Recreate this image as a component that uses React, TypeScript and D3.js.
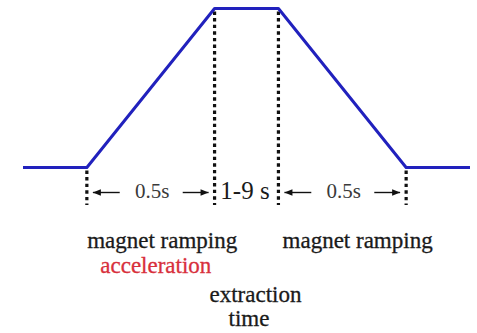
import React from 'react';
import * as d3 from 'd3';

// schematic cycle: time in "units" (0.5 = one flat/edge step), level 0 = injection, 1 = flat top
const cycleTimes = [0, 0.5, 1.5, 2, 3, 3.5];
const cycleLevels = [0, 0, 1, 1, 0, 0];
const markerIndex = [1, 2, 3, 4];

const intervalStart = [0.5, 1.5, 2];
const intervalEnd = [1.5, 2, 3];
const intervalLabels = ['0.5s', '1-9 s', '0.5s'];
const intervalArrows = [true, false, true];

const captionTexts = ['magnet ramping', 'magnet ramping', 'acceleration', 'extraction', 'time'];
const captionTimes = [1.09, 2.62, 1.04, 1.82, 1.77];
const captionRows = [0, 0, 1, 2, 3];
const captionHighlight = [false, false, true, false, false];

const serif = "'Liberation Serif', 'Times New Roman', serif";

export default function App() {
  const width = 477;
  const height = 333;

  const x = d3.scaleLinear().domain([0, 3.5]).range([23, 470]);
  const y = d3.scaleLinear().domain([0, 1]).range([167.5, 8.5]);

  const line = d3.line<number>()
    .x((d, i) => x(cycleTimes[i]))
    .y(d => y(d));

  const markerBottom = 205;
  const labelBase = 198;
  const arrowY = 192.5;
  const rowBase = [248, 273, 302, 326];

  const arrowHead = (tip: number, dir: number) => {
    const len = 8;
    const half = 3.2;
    return `M${tip},${arrowY} L${tip - dir * len},${arrowY - half} L${tip - dir * len},${arrowY + half} Z`;
  };

  return (
    <div style={{ position: 'fixed', left: 0, top: 0, background: '#fff' }}>
      <svg width={width} height={height} style={{ display: 'block' }}>
        <rect width={width} height={height} fill="#fff" />

        {markerIndex.map(i => (
          <line
            key={'m' + i}
            x1={x(cycleTimes[i])}
            x2={x(cycleTimes[i])}
            y1={y(cycleLevels[i]) + 3}
            y2={markerBottom}
            stroke="#111"
            strokeWidth={3.2}
            strokeDasharray="3.4,3.2"
          />
        ))}

        <path
          d={line(cycleLevels) || ''}
          fill="none"
          stroke="#2121bd"
          strokeWidth={3}
          strokeLinejoin="round"
        />

        {intervalLabels.map((label, i) => {
          const a = x(intervalStart[i]);
          const b = x(intervalEnd[i]);
          const c = (a + b) / 2;
          const big = !intervalArrows[i];
          return (
            <g key={'iv' + i}>
              <text
                x={c + (big ? -1.5 : 1.5)}
                y={big ? labelBase + 1 : labelBase}
                textAnchor="middle"
                style={{ fontFamily: serif, fontSize: big ? 25 : 21 }}
                fill={big ? '#1a1a1a' : '#3a3a3a'}
              >
                {label}
              </text>
              {intervalArrows[i] && (
                <g>
                  <line x1={a + 6} x2={c - 31} y1={arrowY} y2={arrowY} stroke="#111" strokeWidth={1.4} />
                  <path d={arrowHead(a + 6, -1)} fill="#111" />
                  <line x1={c + 32} x2={b - 6} y1={arrowY} y2={arrowY} stroke="#111" strokeWidth={1.4} />
                  <path d={arrowHead(b - 6, 1)} fill="#111" />
                </g>
              )}
            </g>
          );
        })}

        {captionTexts.map((t, i) => {
          const col = captionHighlight[i] ? '#d8303c' : '#1a1a1a';
          return (
            <text
              key={'c' + i}
              x={x(captionTimes[i])}
              y={rowBase[captionRows[i]]}
              textAnchor="middle"
              style={{ fontFamily: serif, fontSize: 23 }}
              fill={col}
              stroke={col}
              strokeWidth={0.3}
            >
              {t}
            </text>
          );
        })}
      </svg>
    </div>
  );
}
